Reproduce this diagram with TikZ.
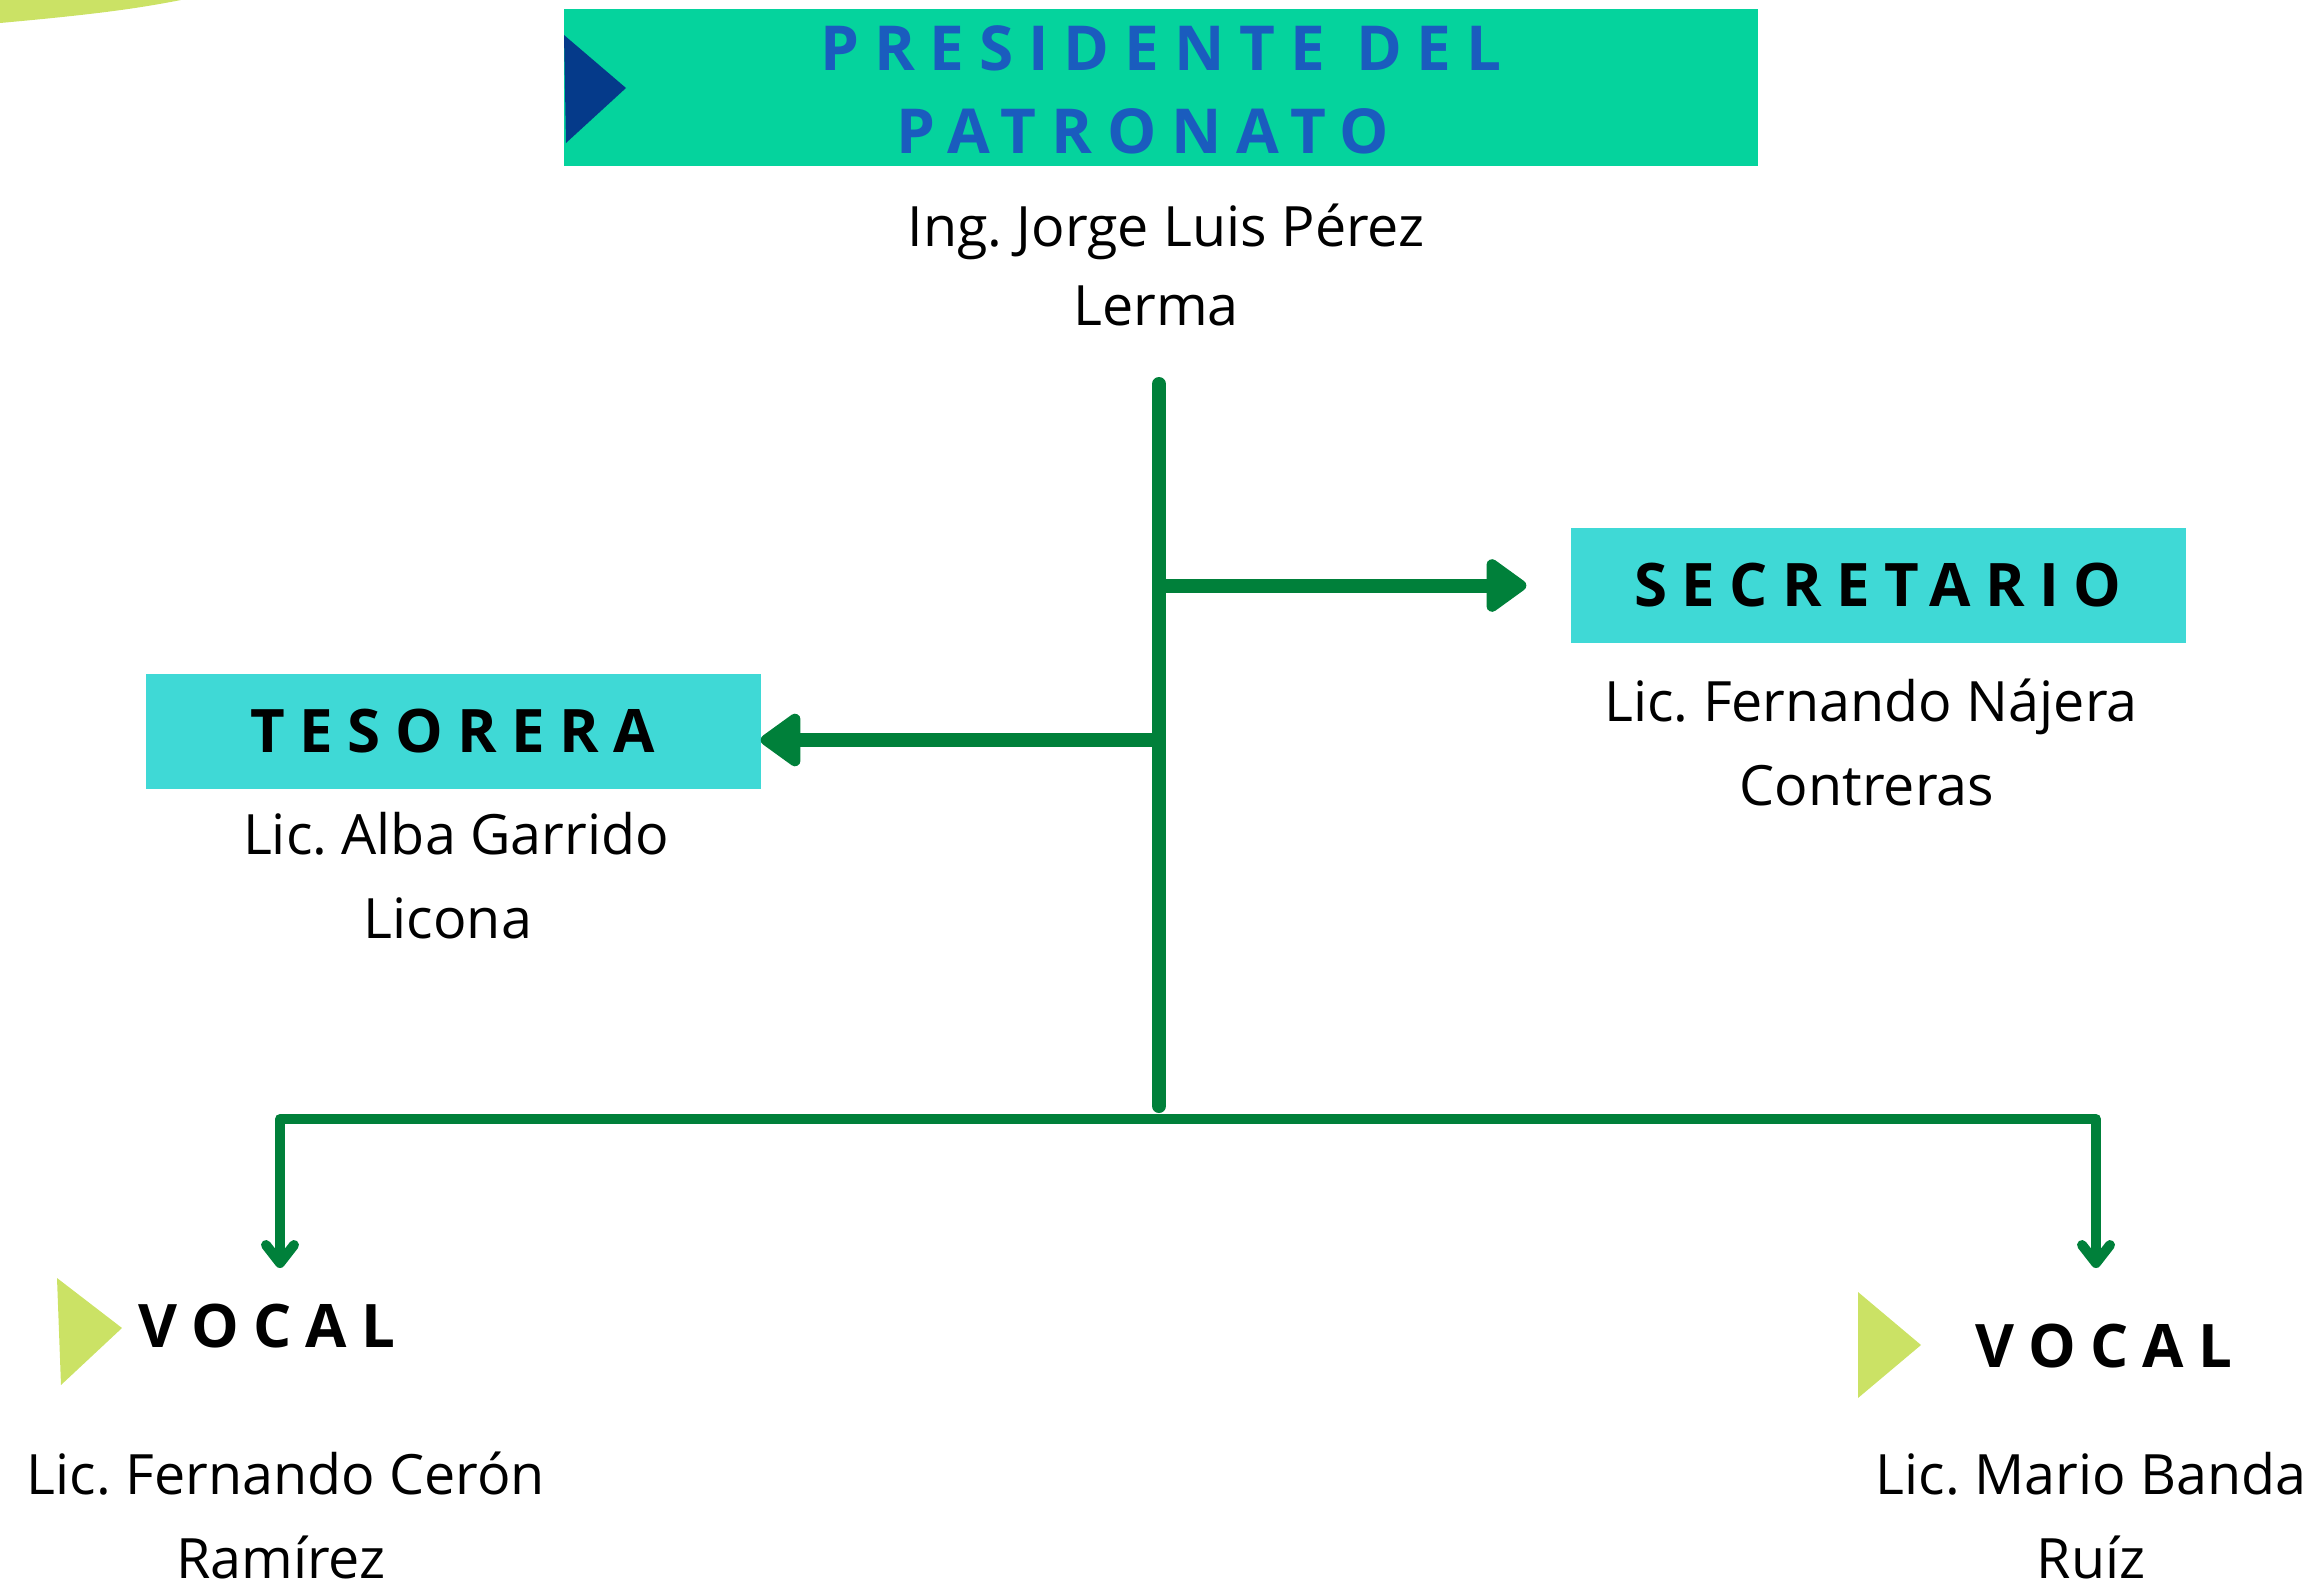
\documentclass[tikz,border=0pt]{standalone}
\usepackage{fontspec}
\setmainfont{Open Sans}
\newfontfamily\spaced[LetterSpace=24]{Open Sans}
\usetikzlibrary{arrows.meta}
\definecolor{lime}{HTML}{CBE265}
\definecolor{presgreen}{HTML}{05D39D}
\definecolor{navy}{HTML}{053A8A}
\definecolor{titleblue}{HTML}{1A5CBE}
\definecolor{turq}{HTML}{3FD9D6}
\definecolor{linegreen}{HTML}{00803A}
\frenchspacing
\begin{document}
\begin{tikzpicture}[x=1pt,y=-1pt,
  rolebox/.style={fill=turq, minimum width=615pt, minimum height=115pt, inner sep=0pt,
    font=\spaced\bfseries\fontsize{60}{72}\selectfont, text=black},
  vtitle/.style={inner sep=0pt, anchor=base west, font=\spaced\bfseries\fontsize{60}{72}\selectfont, text=black},
  nameline/.style={inner sep=0pt, anchor=base, font=\fontsize{55.6}{82}\selectfont, text=black},
  link/.style={draw=linegreen, line width=14pt},
  sidetip/.style={-{Triangle[length=44pt,width=60pt,round]}},
  bar/.style={draw=linegreen, line width=10pt, line join=round,
    {Straight Barb[length=18pt,width=28pt,round]}-{Straight Barb[length=18pt,width=28pt,round]}}
]
\useasboundingbox (0,0) rectangle (2316,1587);
% decorative blob
\fill[lime] (0,0) -- (181,0) .. controls (140,8) and (100,14) .. (0,23) -- cycle;
% president
\node[fill=presgreen, minimum width=1194pt, minimum height=157pt, inner sep=0pt, align=center,
  font=\spaced\bfseries\fontsize{62}{83}\selectfont, text=titleblue] (pres) at (1161,87.5) {\rule{0pt}{50pt}PRESIDENTE DEL\\PATRONATO\hspace*{36pt}};
\fill[navy] (564,35) -- (626,88) -- (566,143) -- cycle;
\node[nameline] (pn1) at (1166,246) {Ing. Jorge Luis Pérez};
\node[nameline] (pn2) at (1156,325) {Lerma};
% secretario
\node[rolebox] (sec) at (1878,585.5) {SECRETARIO};
\node[nameline] (sn1) at (1871,721) {Lic. Fernando Nájera};
\node[nameline] (sn2) at (1867,805) {Contreras};
% tesorera
\node[rolebox] (tes) at (453,731.5) {TESORERA};
\node[nameline] (tn1) at (456,854) {Lic. Alba Garrido};
\node[nameline] (tn2) at (448,938) {Licona};
% vocales
\fill[lime] (57,1278) -- (122,1328) -- (61,1385) -- cycle;
\node[vtitle] (v1) at (138,1347) {VOCAL};
\node[nameline] (v1n1) at (286,1494) {Lic. Fernando Cerón};
\node[nameline] (v1n2) at (281,1578) {Ramírez};
\fill[lime] (1858,1292) -- (1921,1345) -- (1858,1398) -- cycle;
\node[vtitle] (v2) at (1975,1367) {VOCAL};
\node[nameline] (v2n1) at (2091,1494) {Lic. Mario Banda};
\node[nameline] (v2n2) at (2091,1578) {Ruíz};
% connectors
\coordinate (ttop) at (1159,384);
\coordinate (tbot) at (1159,1106);
\coordinate (tsec) at (1159,585.5);
\coordinate (ttes) at (1159,740);
\coordinate (bmid) at (1159,1119);
\coordinate (bl) at (280,1268);
\coordinate (br) at (2096,1268);
\draw[link, line cap=round] (ttop) -- (tbot);
\draw[link, sidetip] (tsec) -- ([xshift=-44pt]sec.west);
\draw[link, sidetip] (ttes) -- (tes.east |- ttes);
\draw[bar] (bl) |- (bmid) -| (br);
\end{tikzpicture}
\end{document}
